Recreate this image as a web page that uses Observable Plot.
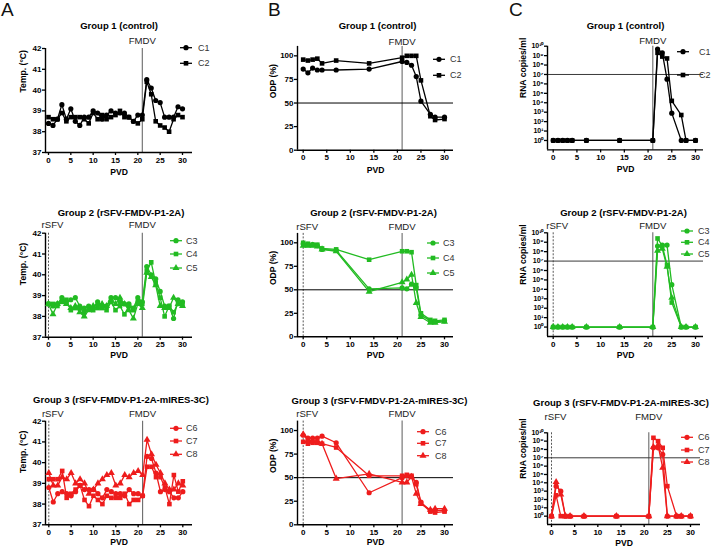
<!DOCTYPE html>
<html><head><meta charset="utf-8">
<script src="https://cdn.jsdelivr.net/npm/d3@7"></script>
<script src="https://cdn.jsdelivr.net/npm/@observablehq/plot@0.6"></script>
<style>
body{margin:0;background:#fff}
#wrap{position:relative;width:712px;height:547px;overflow:hidden;font-family:"Liberation Sans",Arial,sans-serif}
#wrap svg{position:absolute;left:0;top:0;overflow:visible}
.lab{position:absolute;font-size:19px;line-height:1;color:#111}
</style></head>
<body><div id="wrap"></div>
<script>
// ---------- data ----------
const tempDays = [0,1,2,3,4,5,6,7,8,9,10,11,12,13,14,15,16,17,18,19,20,21,22,23,24,25,26,27,28,29,30];
const sampleDays = [0,1,2,3,4,7,14,21,22,23,24,25,27,28,30];
const xTicks = [0,5,10,15,20,25,30];
const tempTicks = [37,38,39,40,41,42];
const odpTicks = [0,25,50,75,100];
const rnaTicks = [1,1e1,1e2,1e3,1e4,1e5,1e6,1e7,1e8,1e9,1e10];
const fmdvEvent = [{day:21,label:"FMDV"}];
const rsfvEvent = [{day:0,label:"rSFV"}];
const odpCutoff = [50];
const rnaCutoff = [1e7];

// Group 1 temperature (°C)
const g1TempC1 = [38.4,38.3,38.6,39.3,38.6,39.1,38.5,38.3,38.7,38.7,39.0,38.9,38.6,38.8,39.0,38.9,38.9,38.9,38.7,38.5,38.8,38.8,40.5,40.1,39.5,39.4,38.7,38.7,38.7,39.2,39.1];
const g1TempC2 = [38.7,38.6,38.6,38.9,38.5,38.7,38.7,38.7,38.6,38.4,38.9,38.6,38.8,38.6,38.7,38.8,39.0,38.7,38.7,38.5,38.4,38.6,40.4,39.8,38.5,38.3,38.2,38.0,38.6,38.8,38.7];
// Group 2 temperature
const g2TempC3 = [38.6,38.5,38.6,38.9,38.7,38.8,38.9,38.5,38.4,38.5,38.4,38.7,38.5,38.5,38.9,38.9,38.7,38.6,38.6,38.4,38.9,38.7,40.4,40.0,39.8,39.2,38.5,38.5,37.9,38.8,38.7];
const g2TempC4 = [38.6,38.6,38.5,38.7,38.8,38.3,38.4,38.4,38.2,38.4,38.3,38.4,38.4,38.3,38.7,38.3,38.5,38.1,38.5,38.3,38.7,38.6,40.2,40.6,39.6,38.9,38.0,38.5,38.2,38.6,38.6];
const g2TempC5 = [38.6,38.1,38.6,38.7,38.6,38.4,38.5,38.2,38.0,38.3,38.5,38.6,38.6,38.5,38.8,38.6,38.9,38.6,38.3,37.9,38.6,38.4,40.1,39.9,39.5,38.5,38.4,38.4,38.9,38.6,38.5];
// Group 3 temperature
const g3TempC6 = [38.8,38.1,38.5,38.6,38.5,38.4,38.6,38.9,38.7,38.7,38.7,38.5,38.3,38.7,38.6,38.5,38.5,38.4,38.7,38.5,38.5,38.4,40.3,40.2,39.5,38.6,38.7,38.6,38.3,38.3,38.6];
const g3TempC7 = [39.2,39.2,39.2,39.6,38.3,38.5,38.7,38.9,38.2,37.9,38.4,38.2,38.0,38.4,38.3,38.3,38.3,38.5,38.0,38.2,38.2,38.4,39.8,39.8,39.3,39.3,38.8,38.0,39.4,38.6,39.1];
const g3TempC8 = [39.5,38.9,38.9,39.3,39.2,39.5,39.0,39.2,39.0,38.5,38.7,39.0,39.2,39.4,39.5,38.9,39.0,39.4,39.3,39.5,39.6,39.4,41.1,40.4,39.9,39.5,39.0,38.7,38.7,39.0,38.9];

// ODP (%)
const g1OdpC1 = [86,82,87,85,85,85,86,94,93,90,78,52,38,35,35];
const g1OdpC2 = [96,95,96,97,92,95,92,98,100,100,100,74,36,32,33];
const g2OdpC3 = [99,98,98,97,93,92,51,52,51,56,52,23,17,16,17];
const g2OdpC4 = [100,99,98,98,94,93,82,91,91,90,55,25,18,17,18];
const g2OdpC5 = [97,97,97,96,93,91,48,58,61,66,36,21,15,15,16];
const g3OdpC6 = [95,92,92,92,94,87,34,50,52,51,45,24,15,15,15];
const g3OdpC7 = [88,86,87,87,86,82,52,52,53,52,43,23,14,13,14];
const g3OdpC8 = [96,90,89,89,86,49,54,45,45,51,33,22,16,17,17];

// RNA copies/ml (log10)
const g1RnaC1 = [0,0,0,0,0,0,0,0,9.7,9.3,6.5,2.9,0,0,0];
const g1RnaC2 = [0,0,0,0,0,0,0,0,9.3,8.9,8.7,4.2,2.7,0,0];
const g2RnaC3 = [0,0,0,0,0,0,0,0,8.6,8.7,8.7,4.5,0,0,0];
const g2RnaC4 = [0,0,0,0,0,0,0,0,9.4,8.6,6.6,2.6,0,0,0];
const g2RnaC5 = [0,0,0,0,0,0,0,0,8.1,8.3,6.4,3.1,0,0,0];
const g3RnaC6 = [0,3.6,3.0,0,0,0,0,0,8.2,8.2,7.4,0,0,0,0];
const g3RnaC7 = [0,2.5,0,0,0,0,0,0,9.4,9.0,8.2,3.6,0,0,0];
const g3RnaC8 = [0,4.1,2.6,0,0,0,0,0,8.3,8.5,5.8,0,0,0,0];

const titles = ["Group 1 (control)","Group 2 (rSFV-FMDV-P1-2A)","Group 3 (rSFV-FMDV-P1-2A-mIRES-3C)"];
const yLabels = {temp:"Temp. (°C)", odp:"ODP (%)", rna:"RNA copies/ml"};

// ---------- layout ----------
const BLACK="#000000", GREEN="#22bb22", RED="#ee1c1c";
const W=712, H=547;
const symbolsList = ["circle","square","triangle"];

const panels = [
 {kind:"temp",L:45,R:192,T:48,B:152,x0:48,x30:182,days:tempDays,series:[["C1",g1TempC1],["C2",g1TempC2]],color:BLACK,title:titles[0],titleY:25,tdx:0,vY:40,pvdY:172,rsfv:false,ylx:23,yldy:-8,leg:{mx:186,tx:198,ys:[47.7,63.3]}},
 {kind:"odp",L:297,R:453,T:45.9,B:149.7,x0:302.7,x30:444,days:sampleDays,series:[["C1",g1OdpC1],["C2",g1OdpC2]],color:BLACK,title:titles[0],titleY:25,tdx:2,vY:41,pvdY:170,rsfv:false,ylx:273,yldy:0,leg:{mx:439,tx:450,ys:[59.3,75.3]}},
 {kind:"rna",L:547,R:703,T:45.7,B:149.4,x0:552.7,x30:695,days:sampleDays,series:[["C1",g1RnaC1],["C2",g1RnaC2]],color:BLACK,title:titles[0],titleY:25,tdx:0,vY:40.5,pvdY:169,rsfv:false,ylx:523,yldy:0,leg:{mx:683,tx:699,ys:[51.7,75]}},
 {kind:"temp",L:45,R:192,T:232.7,B:336.7,x0:48,x30:182,days:tempDays,series:[["C3",g2TempC3],["C4",g2TempC4],["C5",g2TempC5]],color:GREEN,title:titles[1],titleY:212.3,tdx:2,vY:224,pvdY:354.3,rsfv:true,ylx:23,yldy:0,leg:{mx:176,tx:186,ys:[240.7,254,268]}},
 {kind:"odp",L:297,R:453,T:232.9,B:336.3,x0:302.7,x30:444,days:sampleDays,series:[["C3",g2OdpC3],["C4",g2OdpC4],["C5",g2OdpC5]],color:GREEN,title:titles[1],titleY:212.3,tdx:-2,vY:226,pvdY:354.3,rsfv:true,ylx:273,yldy:0,leg:{mx:433,tx:443,ys:[243,258,273]}},
 {kind:"rna",L:547,R:703,T:232.3,B:336,x0:552.7,x30:695,days:sampleDays,series:[["C3",g2RnaC3],["C4",g2RnaC4],["C5",g2RnaC5]],color:GREEN,title:titles[1],titleY:212.3,tdx:-2,vY:225,pvdY:355,rsfv:true,ylx:523,yldy:0,leg:{mx:687,tx:698,ys:[231,242.3,254]}},
 {kind:"temp",L:45,R:192,T:420.7,B:524.3,x0:48.3,x30:182.3,days:tempDays,series:[["C6",g3TempC6],["C7",g3TempC7],["C8",g3TempC8]],color:RED,title:titles[2],titleY:399.3,tdx:2,vY:413,pvdY:541.7,rsfv:true,ylx:23,yldy:0,leg:{mx:176,tx:186,ys:[428.3,441,454.3]}},
 {kind:"odp",L:297,R:453,T:420.6,B:524.3,x0:302.7,x30:444,days:sampleDays,series:[["C6",g3OdpC6],["C7",g3OdpC7],["C8",g3OdpC8]],color:RED,title:titles[2],titleY:400,tdx:4,vY:413,pvdY:541.7,rsfv:true,ylx:273,yldy:0,leg:{mx:423,tx:435,ys:[431.7,443.3,455.7]}},
 {kind:"rna",L:547,R:700,T:432.3,B:524,x0:551,x30:690,days:sampleDays,series:[["C6",g3RnaC6],["C7",g3RnaC7],["C8",g3RnaC8]],color:RED,title:titles[2],titleY:402.7,tdx:-3,vY:416,pvdY:542.3,rsfv:true,ylx:523,yldy:0,leg:{mx:687,tx:698,ys:[437.3,450,462]}}
];

const wrap = document.getElementById("wrap");
const SUP = "⁰¹²³⁴⁵⁶⁷⁸⁹";
const sup = n => String(n).split("").map(c => SUP[+c]).join("");
const R = 2.6;

function makePanel(p){
  const data = [];
  p.series.forEach(([id, vals]) => vals.forEach((v,i) => data.push({id, day:p.days[i], v: p.kind === "rna" ? Math.pow(10, v) : v})));
  const s = (p.x30 - p.x0) / 30;
  const xDomain = [(p.L - p.x0) / s, 30 + (p.R - p.x30) / s];
  const yc = {
    temp:{type:"linear",domain:[37,42],ticks:tempTicks,tickFormat:d=>String(d)},
    odp:{type:"linear",domain:[0,110],ticks:odpTicks,tickFormat:d=>String(d)},
    rna:{type:"log",domain:[0.1,1e10],ticks:rnaTicks,tickFormat:d=>"10"+sup(Math.round(Math.log10(d)))}
  }[p.kind];
  const ids = p.series.map(d => d[0]);
  const evText = {frameAnchor:"top", lineAnchor:"middle", dy:p.vY - p.T, fontSize:9.6, fontWeight:"normal", fill:"#222"};
  const marks = [
    Plot.ruleX(fmdvEvent, {x:"day", stroke:"#6a6a6a", strokeWidth:1.1}),
    p.rsfv ? Plot.ruleX(rsfvEvent, {x:"day", stroke:"#444", strokeWidth:0.9, strokeDasharray:"2,1.5"}) : null,
    p.kind === "odp" ? Plot.ruleY(odpCutoff, {stroke:"#000", strokeWidth:1}) : null,
    p.kind === "rna" ? Plot.ruleY(rnaCutoff, {stroke:"#3a3a3a", strokeWidth:1}) : null,
    Plot.ruleX([xDomain[0]], {stroke:"#000", strokeWidth:1.4}),
    Plot.ruleY([yc.domain[0]], {stroke:"#000", strokeWidth:1.4}),
    Plot.axisX({ticks:xTicks, tickSize:3, tickPadding:1.5, fontSize:8, label:null, strokeWidth:1.3, tickFormat:d=>String(d)}),
    Plot.axisY({ticks:yc.ticks, tickFormat:yc.tickFormat, tickSize:3, tickPadding:1, fontSize: p.kind==="rna"?7:8, label:null, strokeWidth:1.3}),
    Plot.line(data, {x:"day", y:"v", z:"id", stroke:p.color, strokeWidth:1.3}),
    Plot.dot(data, {x:"day", y:"v", symbol:"id", fill:p.color, stroke:"none", r:R}),
    Plot.text([p.title], {frameAnchor:"top", lineAnchor:"middle", dy:p.titleY - p.T, dx:p.tdx, fontSize:9.5, fontWeight:"bold"}),
    Plot.text(fmdvEvent, {x:"day", text:"label", ...evText}),
    p.rsfv ? Plot.text(rsfvEvent, {x:"day", text:"label", dx:4, ...evText}) : null,
    Plot.text([yLabels[p.kind]], {frameAnchor:"left", rotate:-90, dx:p.ylx - p.L, dy:p.yldy, fontSize:8.6, fontWeight:"bold"}),
    Plot.text(["PVD"], {frameAnchor:"bottom", lineAnchor:"middle", dy:p.pvdY - p.B, fontSize:8.6, fontWeight:"bold"})
  ].filter(Boolean);
  const svg = Plot.plot({
    width:W, height:H,
    marginLeft:p.L, marginRight:W - p.R, marginTop:p.T, marginBottom:H - p.B,
    style:{background:"transparent", fontFamily:"'Liberation Sans', Arial, sans-serif", fontWeight:"bold", color:"#000", overflow:"visible"},
    x:{domain:xDomain},
    y:{type:yc.type, domain:yc.domain},
    symbol:{domain:ids, range:symbolsList.slice(0, ids.length)},
    marks
  });
  wrap.appendChild(svg);

  // legend
  const ov = d3.select(wrap).append("svg").attr("width", W).attr("height", H);
  const symMap = {circle:d3.symbolCircle, square:d3.symbolSquare, triangle:d3.symbolTriangle};
  ids.forEach((id, i) => {
    const y = p.leg.ys[i], mx = p.leg.mx;
    ov.append("line").attr("x1", mx - 6).attr("x2", mx + 6).attr("y1", y).attr("y2", y)
      .attr("stroke", p.color).attr("stroke-width", 1.3);
    ov.append("path").attr("d", d3.symbol(symMap[symbolsList[i]], Math.PI * R * R)())
      .attr("transform", `translate(${mx},${y})`).attr("fill", p.color);
    ov.append("text").attr("x", p.leg.tx).attr("y", y).attr("dy", "0.35em").text(id)
      .attr("font-size", 9).attr("fill", "#333").attr("font-family", "'Liberation Sans', Arial, sans-serif");
  });
}
panels.forEach(makePanel);

[["A",1,0],["B",268,0],["C",509,0]].forEach(([t,x,y]) => {
  const d = document.createElement("div");
  d.className = "lab"; d.textContent = t;
  d.style.left = x + "px"; d.style.top = y + "px";
  wrap.appendChild(d);
});
</script>
</body></html>
